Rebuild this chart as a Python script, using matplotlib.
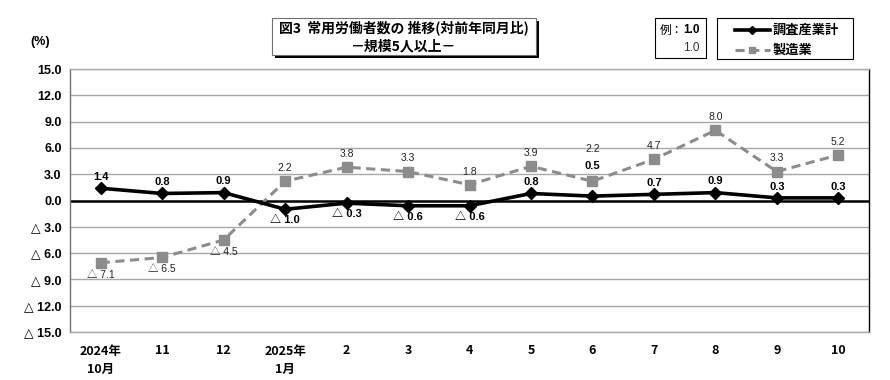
import matplotlib
matplotlib.use("Agg")
import matplotlib.pyplot as plt
from matplotlib.patches import Rectangle
from matplotlib.lines import Line2D

plt.rcParams['font.family'] = ['Liberation Sans', 'Noto Sans CJK JP', 'DejaVu Sans']

# データ
months = ["2024年\n10月", "11", "12", "2025年\n1月", "2", "3", "4", "5", "6", "7", "8", "9", "10"]
total = [1.4, 0.8, 0.9, -1.0, -0.3, -0.6, -0.6, 0.8, 0.5, 0.7, 0.9, 0.3, 0.3]
manuf = [-7.1, -6.5, -4.5, 2.2, 3.8, 3.3, 1.8, 3.9, 2.2, 4.7, 8.0, 3.3, 5.2]
yticks = [15, 12, 9, 6, 3, 0, -3, -6, -9, -12, -15]


def fmt(v):
    # マイナスは△表記
    if v < 0:
        return "△ %.1f" % abs(v)
    return "%.1f" % v


narrow = ['Liberation Sans Narrow', 'Liberation Sans', 'Noto Sans CJK JP']
cjk = ['Noto Sans CJK JP', 'DejaVu Sans']

fig = plt.figure(figsize=(8.9, 3.8), dpi=100)
ax = fig.add_axes([70 / 890, 48 / 380, 799 / 890, 263 / 380])

x = list(range(len(months)))
ax.plot(x, manuf, color='#8c8c8c', lw=2.2, ls=(0, (3, 1.8)), marker='s', ms=6.5,
        mfc='#8c8c8c', mec='#8c8c8c', zorder=3)
ax.plot(x, total, color='black', lw=2.6, marker='D', ms=6.5, zorder=4)

ax.set_xlim(-0.5, len(months) - 0.5)
ax.set_ylim(-15, 15)
ax.set_yticks(yticks)
ax.set_yticklabels([fmt(v) for v in yticks], fontsize=9, fontweight='bold',
                   family=['Liberation Sans', 'DejaVu Sans'])
ax.set_xticks(x)
ax.set_xticklabels(months, fontsize=9, fontweight='bold', family=cjk, linespacing=1.5)
ax.tick_params(length=0, pad=6)
ax.tick_params(axis='x', pad=9)
for v in yticks:
    if v == 0:
        ax.axhline(0, color='black', lw=1.8, zorder=2)
    else:
        ax.axhline(v, color='#a8a8a8', lw=1.0, zorder=1)
for s in ['top', 'bottom']:
    ax.spines[s].set_color('#a8a8a8')
ax.spines['left'].set_color('#707070')
ax.spines['right'].set_color('black')
for s in ax.spines.values():
    s.set_linewidth(1.0)

# ラベルの位置調整（6月は重なるので上へ）
extra = {8: 14}
for i, v in enumerate(total):
    dy = 8 if v >= 0 else -8
    dy += extra.get(i, 0)
    ax.annotate(fmt(v), (i, v), xytext=(0, dy), textcoords='offset points',
                ha='center', va='center', fontsize=8, fontweight='bold',
                family=narrow, zorder=5)
for i, v in enumerate(manuf):
    dy = 9.5 if v >= 0 else -8.5
    dy += extra.get(i, 0)
    ax.annotate(fmt(v), (i, v), xytext=(0, dy), textcoords='offset points',
                ha='center', va='center', fontsize=7.5, family=narrow,
                color='#222222', zorder=5)

fig.text(40 / 890, 1 - 42 / 380, "(%)", fontsize=9, fontweight='bold', ha='center', va='center')

# タイトル枠
fig.patches.append(Rectangle((275 / 890, 1 - 58 / 380), 264 / 890, 37 / 380,
                             transform=fig.transFigure, fc='black', ec='black', lw=0))
fig.patches.append(Rectangle((272 / 890, 1 - 55 / 380), 264 / 890, 37 / 380,
                             transform=fig.transFigure, fc='white', ec='#707070', lw=0.8))
fig.text(404 / 890, 1 - 28 / 380, "図3  常用労働者数の 推移(対前年同月比)", fontsize=10,
         fontweight='bold', family=cjk, ha='center', va='center')
fig.text(404 / 890, 1 - 46 / 380, "－規模5人以上－", fontsize=10,
         fontweight='bold', family=cjk, ha='center', va='center')

# 例の枠
fig.patches.append(Rectangle((655 / 890, 1 - 58 / 380), 51 / 890, 40 / 380,
                             transform=fig.transFigure, fc='white', ec='black', lw=0.8))
fig.text(660 / 890, 1 - 30 / 380, "例：", fontsize=8.5, family=cjk, ha='left', va='center')
fig.text(700 / 890, 1 - 30 / 380, "1.0", fontsize=8.5, fontweight='bold', ha='right', va='center')
fig.text(700 / 890, 1 - 48 / 380, "1.0", fontsize=8.5, ha='right', va='center', color='#333333')

# 凡例の枠
fig.patches.append(Rectangle((717 / 890, 1 - 59 / 380), 136 / 890, 41 / 380,
                             transform=fig.transFigure, fc='white', ec='black', lw=0.8))
fig.lines.append(Line2D([735 / 890, 770 / 890], [1 - 30 / 380] * 2, transform=fig.transFigure,
                        color='black', lw=2.6))
fig.lines.append(Line2D([752 / 890], [1 - 30 / 380], transform=fig.transFigure,
                        color='black', marker='D', ms=4.5, lw=0))
fig.lines.append(Line2D([735 / 890, 770 / 890], [1 - 50 / 380] * 2, transform=fig.transFigure,
                        color='#8c8c8c', lw=2.2, ls=(0, (3, 1.8))))
fig.lines.append(Line2D([752 / 890], [1 - 50 / 380], transform=fig.transFigure,
                        color='#8c8c8c', marker='s', ms=5, lw=0))
fig.text(773 / 890, 1 - 30 / 380, "調査産業計", fontsize=9.5, fontweight='bold', family=cjk,
         ha='left', va='center')
fig.text(773 / 890, 1 - 50 / 380, "製造業", fontsize=9.5, fontweight='bold', family=cjk,
         ha='left', va='center')

fig.savefig("out.png", dpi=100)
